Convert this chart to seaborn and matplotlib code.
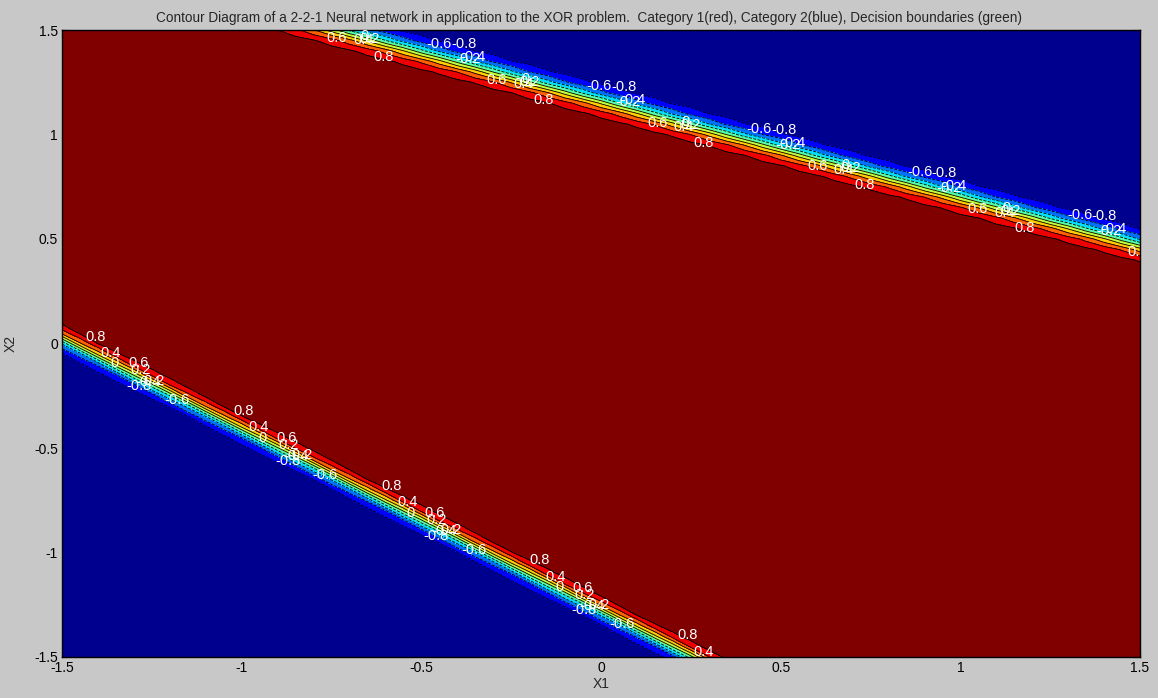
import numpy as np
import pandas as pd
import matplotlib
matplotlib.use("Agg")
import matplotlib.pyplot as plt
import seaborn as sns
from matplotlib.colors import ListedColormap, BoundaryNorm

# ---- network weights (2-2-1, tanh units) ----
w_hidden = [[2.35, 5.10],   # hidden unit 1 (upper boundary)
            [5.20, 6.00]]   # hidden unit 2 (lower boundary)
b_hidden = [-5.92, 7.67]
w_out = [-3.0, 3.0]
b_out = -3.0

x_range = [-1.5, 1.5]
y_range = [-1.5, 1.5]
grid_step = 0.05
levels = [-1.0, -0.8, -0.6, -0.4, -0.2, 0.0, 0.2, 0.4, 0.6, 0.8, 1.0]
x_ticks = [-1.5, -1.0, -0.5, 0.0, 0.5, 1.0, 1.5]
x_tick_labels = ["-1.5", "-1", "-0.5", "0", "0.5", "1", "1.5"]
y_ticks = [-1.5, -1.0, -0.5, 0.0, 0.5, 1.0, 1.5]
y_tick_labels = ["-1.5", "-1", "-0.5", "0", "0.5", "1", "1.5"]
title = ("Contour Diagram of a 2-2-1 Neural network in application to the XOR problem.  "
         "Category 1(red), Category 2(blue), Decision boundaries (green)")

# label layout (display px along each contour path from its left end)
label_spacing_px = 166
label_offset_upper = {-0.8: 57, -0.6: 55, -0.4: 105, -0.2: 112, 0.0: 25,
                      0.2: 35, 0.4: 40, 0.6: 28, 0.8: 100}
label_offset_lower = {-0.8: 73, -0.6: 115, -0.4: 82, -0.2: 87, 0.0: 54,
                      0.2: 76, 0.4: 43, 0.6: 74, 0.8: 26}

# ---- MATLAB jet(64) colours ----
def matlab_jet(m=64):
    n = int(np.ceil(m / 4))
    u = np.concatenate([np.arange(1, n + 1) / n, np.ones(n - 1), np.arange(n, 0, -1) / n])
    g = int(np.ceil(n / 2)) - (1 if m % 4 == 1 else 0) + np.arange(1, len(u) + 1)
    r = g + n
    b = g - n
    J = np.zeros((m, 3))
    for idx, col in ((r, 0), (g, 1), (b, 2)):
        ok = (idx >= 1) & (idx <= m)
        J[idx[ok] - 1, col] = u[ok]
    return J

jet64 = matlab_jet(64)
nreg = len(levels) - 1
region_colors = [jet64[int(round(i * 63 / (nreg - 1)))] for i in range(nreg)]
cmap = ListedColormap(region_colors)
norm = BoundaryNorm(levels, cmap.N)

# ---- evaluate the network on a grid ----
xs = np.round(np.arange(x_range[0], x_range[1] + grid_step / 2, grid_step), 4)
ys = np.round(np.arange(y_range[0], y_range[1] + grid_step / 2, grid_step), 4)
X1, X2 = np.meshgrid(xs, ys)
W = np.array(w_hidden)
h1 = np.tanh(W[0, 0] * X1 + W[0, 1] * X2 + b_hidden[0])
h2 = np.tanh(W[1, 0] * X1 + W[1, 1] * X2 + b_hidden[1])
Z = np.tanh(w_out[0] * h1 + w_out[1] * h2 + b_out)
df = pd.DataFrame({"X1": X1.ravel(), "X2": X2.ravel(), "out": Z.ravel()})
Zg = df.pivot(index="X2", columns="X1", values="out").values

# ---- figure ----
sns.set_style("ticks")
plt.rcParams["font.family"] = ["Liberation Sans", "DejaVu Sans"]
bg = "#c8c8c8"
fig = plt.figure(figsize=(11.58, 6.98), dpi=100, facecolor=bg)
ax = fig.add_axes([62 / 1158, 1 - 657 / 698, (1140 - 62) / 1158, (657 - 30) / 698])
ax.set_xlim(x_range)
ax.set_ylim(y_range)

ax.contourf(xs, ys, Zg, levels=levels, cmap=cmap, norm=norm)
line_levels = levels[1:-1]
cs = ax.contour(xs, ys, Zg, levels=line_levels, colors="black", linewidths=0.6)

# MATLAB-style horizontal labels repeated along each contour line
fig.canvas.draw()
to_disp = ax.transData
to_data = ax.transData.inverted()
for lev, segs in zip(line_levels, cs.allsegs):
    txt = f"{round(lev, 1) + 0.0:g}"
    for seg in segs:
        if len(seg) < 2:
            continue
        d = to_disp.transform(seg)
        if d[0, 0] > d[-1, 0]:
            d = d[::-1]
        seglen = np.hypot(np.diff(d[:, 0]), np.diff(d[:, 1]))
        cum = np.concatenate([[0], np.cumsum(seglen)])
        upper = seg[:, 1].mean() > 0
        off = (label_offset_upper if upper else label_offset_lower)[round(lev, 1)]
        s = off
        while s < cum[-1] - 5:
            px = np.interp(s, cum, d[:, 0])
            py = np.interp(s, cum, d[:, 1])
            xd, yd = to_data.transform((px, py))
            ax.text(xd, yd, txt, color="white", fontsize=10.5,
                    ha="left", va="center", zorder=5, clip_on=True)
            s += label_spacing_px

ax.set_xticks(x_ticks)
ax.set_xticklabels(x_tick_labels)
ax.set_yticks(y_ticks)
ax.set_yticklabels(y_tick_labels)
ax.tick_params(direction="in", length=5, width=0.8, top=True, right=True,
               labelsize=10, colors="black", pad=3)
for s in ax.spines.values():
    s.set_color("black")
    s.set_linewidth(1.0)
ax.set_xlabel("X1", fontsize=10, labelpad=1)
ax.set_ylabel("X2", fontsize=10, labelpad=12)
ax.set_title(title, fontsize=9.8, pad=6, x=0.489)

fig.savefig("out.png", dpi=100, facecolor=bg)
